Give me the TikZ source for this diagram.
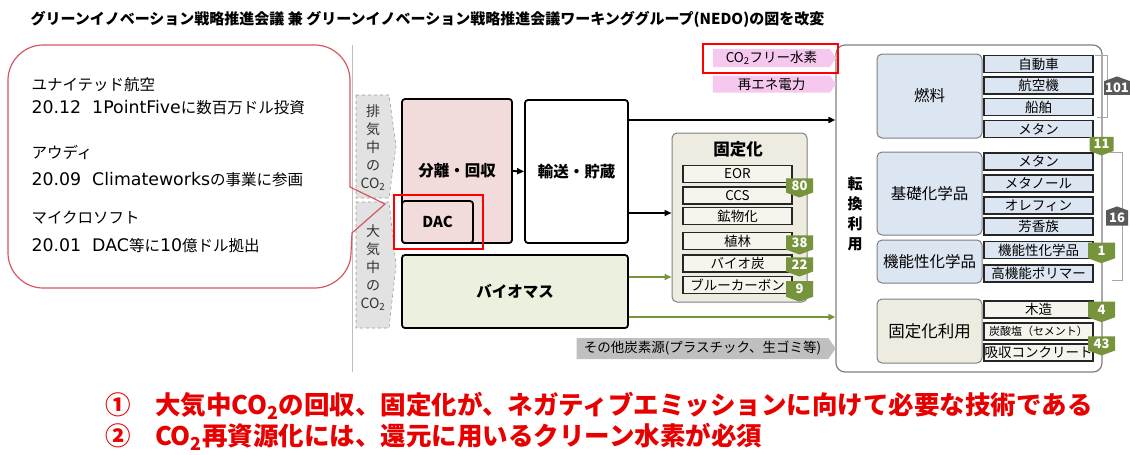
\documentclass[tikz,border=0pt]{standalone}
\usepackage{fontspec}
\setmainfont{Noto Sans CJK JP}
\newfontfamily\lat[Scale=1.12]{DejaVu Sans}
\usetikzlibrary{shapes.symbols,arrows.meta}
\newcommand\fss[2]{\fontsize{#1pt}{#2pt}\selectfont}
\newcommand\cotwo{CO\textsubscript{2}}
\definecolor{bubblered}{RGB}{214,86,98}
\definecolor{pinkbox}{RGB}{242,220,219}
\definecolor{biogreen}{RGB}{235,241,222}
\definecolor{beige}{RGB}{238,236,225}
\definecolor{lblue}{RGB}{220,230,242}
\definecolor{gborder}{RGB}{127,127,127}
\definecolor{olive}{RGB}{119,147,60}
\definecolor{dgray}{RGB}{89,89,89}
\definecolor{pinkarr}{RGB}{246,200,240}
\definecolor{lgray}{RGB}{226,226,226}
\definecolor{mgray}{RGB}{191,191,191}
\definecolor{txtred}{RGB}{232,0,0}
\begin{document}
\begin{tikzpicture}[x=1pt,y=-1pt,
  blk/.style={draw=black, line width=1.8pt, rounded corners=3pt, inner sep=0pt, font=\bfseries\fss{15.5}{18}},
  gbox/.style={draw=gborder, line width=1pt, rounded corners=5pt, inner sep=0pt},
  itm/.style={draw=black!85, line width=1.3pt, inner sep=0pt, minimum width=109pt, minimum height=17pt, font=\fss{13.5}{16}},
  fitm/.style={itm, fill=beige!60},
  bitm/.style={itm, fill=lblue},
  lbox/.style={gbox, minimum width=105pt, font=\fss{15.5}{18}},
  gbadge/.style={signal, signal to=south, signal pointer angle=140, fill=olive, text=white, font=\bfseries\fss{13}{13}, minimum width=27pt, minimum height=17pt, inner sep=0pt},
  kbadge/.style={signal, signal to=north, signal pointer angle=140, fill=dgray, text=white, font=\bfseries\fss{13}{13}, minimum width=26pt, minimum height=18pt, inner sep=0pt},
  sarrow/.style={signal, signal to=east, signal pointer angle=110, inner sep=0pt},
  arr/.style={line width=1.8pt, -{Triangle[length=7pt,width=6pt]}},
  garr/.style={arr, draw=olive},
  redbox/.style={draw=red, line width=2.5pt, inner sep=0pt},
  brk/.style={draw=gray!70, line width=0.8pt},
]
\useasboundingbox (0,0) rectangle (1130,455);

% title
\node[anchor=west, font=\bfseries\fss{15}{18}] (title) at (27,19) {グリーンイノベーション戦略推進会議 兼 グリーンイノベーション戦略推進会議ワーキンググループ(NEDO)の図を改変};

% separator
\coordinate (s1) at (352,45);
\coordinate (s2) at (352,372);
\draw[draw=gray!50, line width=1pt] (s1) -- (s2);

% grey input arrows
\draw[fill=lgray, draw=gray!80, dashed, line width=0.6pt] (356,95) -- (389,95) -- (396,146) -- (389,198) -- (356,198) -- cycle;
\draw[fill=lgray, draw=gray!80, dashed, line width=0.6pt] (356,202) -- (389,202) -- (396,265) -- (389,328) -- (356,328) -- cycle;
\node[font=\fss{14}{18}, align=center, text=black!80] (ga) at (373,148) {排\\気\\中\\の\\\cotwo};
\node[font=\fss{14}{18}, align=center, text=black!80] (gb) at (373,268) {大\\気\\中\\の\\\cotwo};

% bubble
\draw[draw=bubblered, line width=1.2pt] (350,187) -- (350,80) .. controls (350,61) and (334,45) .. (315,45) -- (43,45) .. controls (24,45) and (8,61) .. (8,80) -- (8,253) .. controls (8,272) and (24,288) .. (43,288) -- (315,288) .. controls (334,288) and (351,272) .. (351,253) -- (352,233) -- (385,204) -- cycle;
\node[anchor=west, font=\fss{15.5}{18}] (b1) at (28,85) {ユナイテッド航空};
\node[anchor=west, font=\fss{15.5}{18}] (b2) at (28,108) {{\lat 20.12\ \ 1PointFive}に数百万ドル投資};
\node[anchor=west, font=\fss{15.5}{18}] (b3) at (28,152) {アウディ};
\node[anchor=west, font=\fss{15.5}{18}] (b4) at (28,180) {{\lat 20.09\ \ Climateworks}の事業に参画};
\node[anchor=west, font=\fss{15.5}{18}] (b5) at (28,218) {マイクロソフト};
\node[anchor=west, font=\fss{15.5}{18}] (b6) at (28,246) {{\lat 20.01\ \ DAC}等に{\lat 10}億ドル拠出};

% main process boxes
\node[blk, fill=pinkbox, minimum width=110pt, minimum height=144pt] (sep) at (457,171) {分離・回収};
\node[blk, fill=pinkbox, minimum width=71pt, minimum height=42pt, font=\bfseries\fss{15}{18}] (dac) at (437.5,222) {DAC};
\node[redbox, minimum width=89pt, minimum height=54pt] (dacred) at (438.5,222) {};
\node[blk, fill=white, minimum width=103pt, minimum height=143pt] (trans) at (576.5,171.5) {輸送・貯蔵};
\node[blk, fill=biogreen, minimum width=226pt, minimum height=73pt] (bio) at (515,291.5) {バイオマス};

% fixation box
\node[gbox, fill=beige, minimum width=135pt, minimum height=169pt] (fix) at (739.5,217.5) {};
\node[font=\bfseries\fss{16.5}{18}] (fixt) at (738,149) {固定化};
\node[fitm] (eor) at (737.5,174) {EOR};
\node[fitm] (ccs) at (737.5,195.5) {CCS};
\node[fitm] (min) at (737.5,216) {鉱物化};
\node[fitm] (afo) at (737.5,241) {植林};
\node[fitm] (bch) at (737.5,263.5) {バイオ炭};
\node[fitm] (blc) at (737.5,285) {ブルーカーボン};
\node[gbadge] (n80) at (799.5,185.5) {80};
\node[gbadge] (n38) at (799.5,242.5) {38};
\node[gbadge] (n22) at (799.5,264.5) {22};
\node[gbadge] (n9) at (799.5,289) {9};

% conversion box
\node[gbox, line width=1.2pt, rounded corners=9pt, fill=white, minimum width=266pt, minimum height=327pt] (conv) at (969,208.5) {};
\node[font=\bfseries\fss{15}{20}, align=center] (convl) at (855,214) {転\\換\\利\\用};

\node[lbox, fill=lblue, minimum height=84pt] (fuel) at (929.5,96) {燃料};
\node[bitm] (car) at (1038.5,64) {自動車};
\node[bitm] (air) at (1038.5,85.5) {航空機};
\node[bitm] (ship) at (1038.5,107) {船舶};
\node[bitm] (met1) at (1038.5,129) {メタン};

\node[lbox, fill=lblue, minimum height=83pt] (basic) at (929.5,193.5) {基礎化学品};
\node[bitm] (met2) at (1038.5,161.5) {メタン};
\node[bitm] (mol) at (1038.5,183.5) {メタノール};
\node[bitm] (ole) at (1038.5,205.5) {オレフィン};
\node[bitm] (aro) at (1038.5,226.5) {芳香族};

\node[lbox, fill=lblue, minimum height=43pt] (func) at (929.5,261.5) {機能性化学品};
\node[bitm] (fc) at (1038.5,250) {機能性化学品};
\node[bitm] (poly) at (1038.5,273.5) {高機能ポリマー};

\node[lbox, fill=beige, minimum height=64pt, font=\fss{16.5}{18}] (fixu) at (929.5,331) {固定化利用};
\node[fitm] (wood) at (1038.5,309.5) {木造};
\node[fitm, font=\fss{11}{13}] (carb) at (1038.5,331.5) {炭酸塩（セメント）};
\node[fitm] (conc) at (1038.5,352.5) {吸収コンクリート};

% badges right
\node[gbadge, minimum width=24pt] (n11) at (1101.5,144) {11};
\node[gbadge] (n1) at (1101.5,250.5) {1};
\node[gbadge] (n4) at (1101.5,309.5) {4};
\node[gbadge] (n43) at (1101.5,343.5) {43};

% brackets and grey badges
\draw[brk] (1095,55) -- (1107,55) -- (1107,117) -- (1097,117);
\draw[brk] (1110,152) -- (1122,152) -- (1122,280) -- (1112,280);
\node[kbadge] (n101) at (1117,88) {101};
\node[kbadge, minimum width=22pt] (n16) at (1117,218) {16};

% energy inputs
\node[sarrow, fill=pinkarr, minimum width=123pt, minimum height=18pt, font=\fss{13.5}{15}] (h2) at (771.5,58) {\cotwo フリー水素};
\node[sarrow, fill=pinkarr, minimum width=123pt, minimum height=17pt, font=\fss{13.5}{15}] (ren) at (771.5,84) {再エネ電力};
\node[redbox, minimum width=135pt, minimum height=29pt] (h2red) at (770.5,58.5) {};

% other carbon sources
\node[sarrow, fill=mgray, minimum width=259pt, minimum height=21pt, font=\fss{13.5}{15}] (other) at (702.5,348.5) {その他炭素源(プラスチック、生ゴミ等)};

% connectors
\draw[arr] (sep.east) -- (trans.west);
\draw[arr] ([yshift=51.5pt]trans.east) coordinate (t1) -- (t1 -| conv.west);
\draw[arr] ([yshift=-41.5pt]trans.east) coordinate (t2) -- (t2 -| fix.west);
\draw[garr] ([yshift=14.5pt]bio.east) coordinate (g1) -- (g1 -| fix.west);
\draw[garr] ([yshift=-25.5pt]bio.east) coordinate (g2) -- (g2 -| conv.west);

% conclusions
\node[anchor=west, text=txtred, font=\bfseries\fss{25.5}{28}] (c1) at (102,406) {①\hspace{24pt}大気中\cotwo の回収、固定化が、ネガティブエミッションに向けて必要な技術である};
\node[anchor=west, text=txtred, font=\bfseries\fss{25.5}{28}] (c2) at (102,437) {②\hspace{24pt}\cotwo 再資源化には、還元に用いるクリーン水素が必須};
\end{tikzpicture}
\end{document}
